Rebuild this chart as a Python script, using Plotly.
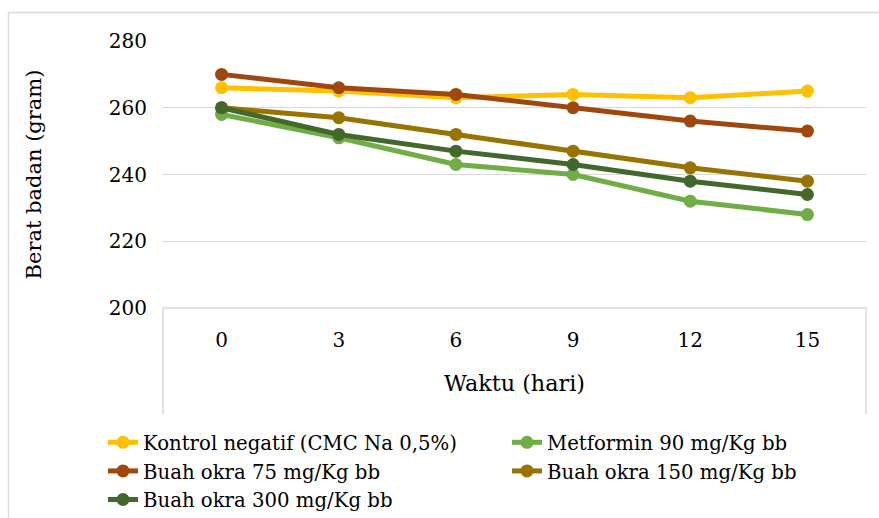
import plotly.graph_objects as go

days = ["0", "3", "6", "9", "12", "15"]
kontrol = [266, 265, 263, 264, 263, 265]
metformin = [258, 251, 243, 240, 232, 228]
okra75 = [270, 266, 264, 260, 256, 253]
okra150 = [260, 257, 252, 247, 242, 238]
okra300 = [260, 252, 247, 243, 238, 234]

series = [
    ("Kontrol negatif (CMC Na 0,5%)", kontrol, "#FFC000"),
    ("Metformin 90 mg/Kg bb", metformin, "#70AD47"),
    ("Buah okra 75 mg/Kg bb", okra75, "#9E480E"),
    ("Buah okra 150 mg/Kg bb", okra150, "#997300"),
    ("Buah okra 300 mg/Kg bb", okra300, "#43682B"),
]

font = "DejaVu Serif"
fig = go.Figure()
for name, vals, col in series:
    fig.add_trace(go.Scatter(
        x=days, y=vals, name=name, mode="lines+markers",
        line=dict(color=col, width=5),
        marker=dict(color=col, size=13),
    ))

W, H = 879, 518
L, R, T, B = 163, 13, 41, 210
pw, ph = W - L - R, H - T - B

def px_x(x):
    return (x - L) / pw

def px_y(y):
    return (H - B - y) / ph

grid = "#D9D9D9"
fig.update_layout(
    width=W, height=H,
    margin=dict(l=L, r=R, t=T, b=B, autoexpand=False),
    paper_bgcolor="white", plot_bgcolor="white",
    font=dict(family=font, size=20, color="black"),
    showlegend=True,
    legend=dict(orientation="h", xref="paper", yref="paper",
                x=px_x(103), xanchor="left", y=px_y(423), yanchor="top",
                entrywidth=359, entrywidthmode="pixels",
                font=dict(size=19.7, family=font), tracegroupgap=0,
                bgcolor="rgba(0,0,0,0)"),
    xaxis=dict(type="category", range=[-0.5, len(days) - 0.5],
               showgrid=False, showline=False, ticks="",
               ticklabelstandoff=18,
               tickfont=dict(size=20), title=dict(text="Waktu (hari)", font=dict(size=22.3), standoff=24)),
    yaxis=dict(range=[200, 280], dtick=20, showgrid=True, gridcolor=grid, gridwidth=1.3,
               zeroline=False, showline=False, ticks="", ticklabelstandoff=15,
               tickfont=dict(size=20),
               title=dict(text="Berat badan (gram)", font=dict(size=21), standoff=61)),
    shapes=[
        dict(type="path", xref="paper", yref="paper",
             path=f"M {px_x(8.5)},{px_y(600)} L {px_x(8.5)},{px_y(12.5)} L {px_x(900)},{px_y(12.5)}",
             line=dict(color=grid, width=1.5), layer="below"),
        dict(type="path", xref="paper", yref="paper",
             path=f"M 0,{px_y(414)} L 0,0 L 1,0 L 1,{px_y(414)}",
             line=dict(color=grid, width=1.5), layer="below"),
    ],
)

fig.write_html("out.html")
